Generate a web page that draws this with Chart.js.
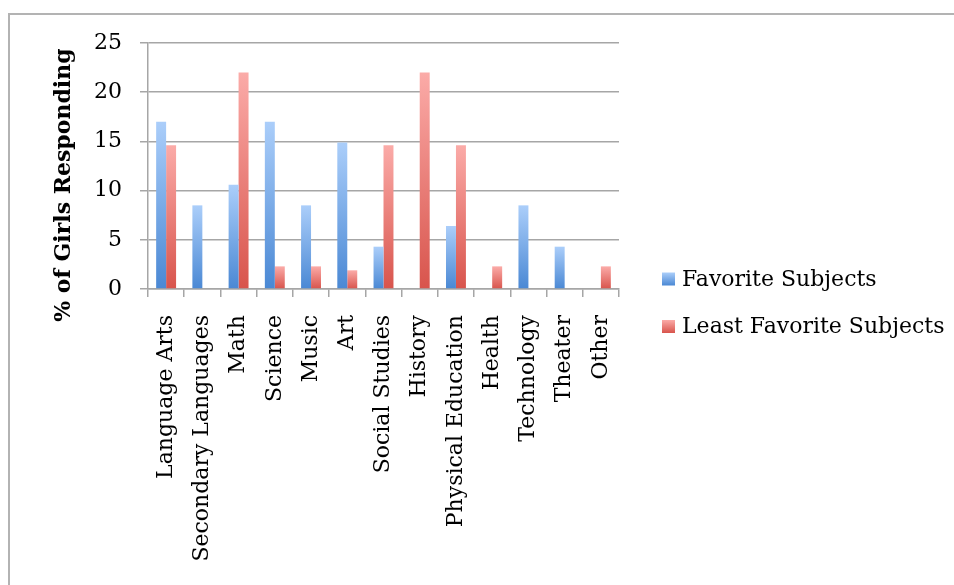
<!DOCTYPE html>
<html>
<head>
<meta charset="utf-8">
<script src="https://cdn.jsdelivr.net/npm/chart.js@4/dist/chart.umd.min.js"></script>
<style>
  html, body { margin: 0; padding: 0; background: #ffffff; }
  body { width: 954px; height: 585px; position: relative; overflow: hidden; }
  #frame { position: absolute; left: 8px; top: 13px; width: 1100px; height: 800px;
           border-top: 2px solid #b3b3b3; border-left: 2px solid #b3b3b3; }
  #c { position: absolute; left: 0; top: 0; }
</style>
</head>
<body>
<div id="frame"></div>
<canvas id="c" width="954" height="585"></canvas>
<script>
const categories = ["Language Arts", "Secondary Languages", "Math", "Science", "Music", "Art",
  "Social Studies", "History", "Physical Education", "Health", "Technology", "Theater", "Other"];
const favoriteSubjects = [17.0, 8.5, 10.6, 17.0, 8.5, 14.9, 4.3, 0, 6.4, 0, 8.5, 4.3, 0];
const leastFavoriteSubjects = [14.6, 0, 22.0, 2.3, 2.3, 1.9, 14.6, 22.0, 14.6, 2.3, 0, 0, 2.3];
const seriesNames = ["Favorite Subjects", "Least Favorite Subjects"];
const yTicks = [0, 5, 10, 15, 20, 25];

const seriesColors = [
  { top: '#abcefa', bottom: '#4a88d4', solid: '#78a9e6' },
  { top: '#fbaba8', bottom: '#d8544c', solid: '#ec8580' }
];

function barGradient(c) {
  return function (ctx) {
    const chart = ctx.chart;
    if (ctx.type !== 'data' || !chart.scales || !chart.scales.y) return c.solid;
    const y = chart.scales.y;
    const v = ctx.parsed ? ctx.parsed.y : ctx.raw;
    const pTop = y.getPixelForValue(v);
    const pBase = y.getPixelForValue(0);
    if (!isFinite(pTop) || !isFinite(pBase) || pBase - pTop < 0.5) return c.solid;
    const g = chart.ctx.createLinearGradient(0, pTop, 0, pBase);
    g.addColorStop(0, c.top);
    g.addColorStop(1, c.bottom);
    return g;
  };
}

const gridColor = '#a6a6a6';
const serif = "'DejaVu Serif', serif";

// Legend drawn at the reference position, from the datasets' labels and colours
const sideLegend = {
  id: 'sideLegend',
  afterDraw(chart) {
    const ctx = chart.ctx;
    const box = 13, x0 = 662, firstCenter = 279, step = 47.5;
    ctx.save();
    ctx.font = "22px 'DejaVu Serif', serif";
    ctx.textBaseline = 'middle';
    ctx.textAlign = 'left';
    chart.data.datasets.forEach((ds, i) => {
      const cy = firstCenter + i * step;
      const c = seriesColors[i];
      const g = ctx.createLinearGradient(0, cy - box / 2, 0, cy + box / 2);
      g.addColorStop(0, c.top);
      g.addColorStop(1, c.bottom);
      ctx.fillStyle = g;
      ctx.fillRect(x0, cy - box / 2, box, box);
      ctx.fillStyle = '#000';
      ctx.fillText(ds.label, x0 + box + 7, cy + 1);
    });
    ctx.restore();
  }
};

new Chart(document.getElementById('c'), {
  type: 'bar',
  data: {
    labels: categories,
    datasets: [
      { label: seriesNames[0], data: favoriteSubjects,
        backgroundColor: barGradient(seriesColors[0]),
        borderWidth: 0, categoryPercentage: 0.55, barPercentage: 1.0 },
      { label: seriesNames[1], data: leastFavoriteSubjects,
        backgroundColor: barGradient(seriesColors[1]),
        borderWidth: 0, categoryPercentage: 0.55, barPercentage: 1.0 }
    ]
  },
  plugins: [sideLegend],
  options: {
    responsive: false,
    animation: false,
    devicePixelRatio: 1,
    layout: { padding: { left: 51, top: 43, bottom: 10, right: 335 } },
    plugins: {
      tooltip: { enabled: false },
      legend: { display: false }
    },
    scales: {
      x: {
        afterFit: function (s) { s.height = 286; },
        grid: { display: true, drawOnChartArea: false, drawTicks: true, tickLength: 8,
                offset: true, color: gridColor, lineWidth: 1.5 },
        border: { display: true, color: gridColor, width: 1.5 },
        ticks: { minRotation: 90, maxRotation: 90, autoSkip: false, padding: 18,
                 color: '#000', font: { family: serif, size: 22 } }
      },
      y: {
        min: 0, max: 25,
        afterBuildTicks: function (s) { s.ticks = yTicks.map(v => ({ value: v })); },
        afterFit: function (s) { s.width = 97; },
        grid: { color: gridColor, lineWidth: 1.5, tickLength: 8, drawTicks: true },
        border: { display: true, color: gridColor, width: 1.5 },
        ticks: { padding: 18, color: '#000', font: { family: serif, size: 22 } },
        title: { display: true, text: '% of Girls Responding     ', color: '#000',
                 padding: { top: 0, bottom: 0 },
                 font: { family: serif, size: 22, weight: 'bold' } }
      }
    }
  }
});
</script>
</body>
</html>
